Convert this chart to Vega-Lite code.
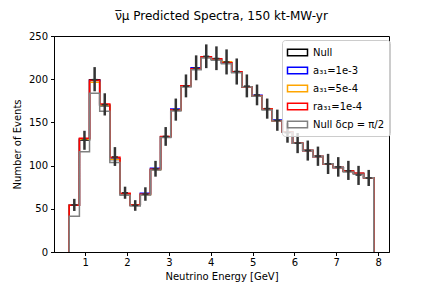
{
  "$schema": "https://vega.github.io/schema/vega-lite/v6.json",
  "width": 335,
  "height": 216,
  "autosize": {"type": "none"},
  "padding": {"left": 54, "top": 36, "right": 43, "bottom": 36},
  "title": {"text": "ν̅μ Predicted Spectra, 150 kt-MW-yr", "fontSize": 12, "fontWeight": "normal", "font": "DejaVu Sans", "color": "black", "offset": 8},
  "config": {
    "font": "DejaVu Sans",
    "view": {"stroke": "black", "strokeWidth": 1},
    "axis": {"domainColor": "black", "tickColor": "black", "labelColor": "black", "titleColor": "black", "labelFontSize": 10, "titleFontSize": 10, "titleFontWeight": "normal", "tickSize": 3.5, "labelPadding": 2, "grid": false, "labelFont": "DejaVu Sans", "titleFont": "DejaVu Sans"}
  },
  "datasets": {
    "steps": [
      {"o":0,"E":0.618,"n":0,"b":0,"y":0,"r":0,"g":0},
      {"o":1,"E":0.618,"n":54,"b":54,"y":54,"r":54,"g":41.5},
      {"o":2,"E":0.861,"n":129.5,"b":131,"y":130.5,"r":131.8,"g":116},
      {"o":3,"E":1.103,"n":199.5,"b":198.5,"y":196.5,"r":198.8,"g":183.7},
      {"o":4,"E":1.346,"n":169.4,"b":170,"y":170,"r":171.4,"g":163},
      {"o":5,"E":1.588,"n":107,"b":108,"y":107.4,"r":109.8,"g":103.5},
      {"o":6,"E":1.831,"n":67.5,"b":67.5,"y":67.5,"r":67.9,"g":65.6},
      {"o":7,"E":2.074,"n":54.3,"b":54.3,"y":54.3,"r":54.3,"g":53.1},
      {"o":8,"E":2.316,"n":66.5,"b":67.9,"y":66.5,"r":66.7,"g":65.9},
      {"o":9,"E":2.559,"n":95.5,"b":97,"y":95.5,"r":95.8,"g":95},
      {"o":10,"E":2.801,"n":133.5,"b":133.5,"y":133.5,"r":133.7,"g":132.6},
      {"o":11,"E":3.044,"n":164.2,"b":165.6,"y":164.2,"r":164.4,"g":163.2},
      {"o":12,"E":3.287,"n":192,"b":192,"y":192,"r":192.3,"g":191.1},
      {"o":13,"E":3.529,"n":211.8,"b":213.2,"y":211.8,"r":212,"g":210.9},
      {"o":14,"E":3.772,"n":225.8,"b":225.8,"y":225.8,"r":226,"g":224.4},
      {"o":15,"E":4.014,"n":223.5,"b":223.5,"y":223.5,"r":223.7,"g":222},
      {"o":16,"E":4.257,"n":219,"b":219,"y":220.2,"r":219,"g":218},
      {"o":17,"E":4.5,"n":208.4,"b":208.4,"y":208.4,"r":208.6,"g":207.4},
      {"o":18,"E":4.742,"n":191.2,"b":191.2,"y":191.2,"r":191.2,"g":191.2},
      {"o":19,"E":4.985,"n":180.5,"b":181.4,"y":180.5,"r":180.5,"g":180.2},
      {"o":20,"E":5.227,"n":165.4,"b":165.4,"y":165.4,"r":165.6,"g":164.4},
      {"o":21,"E":5.47,"n":151.8,"b":152.8,"y":151.8,"r":151.8,"g":151.6},
      {"o":22,"E":5.713,"n":139,"b":139,"y":139,"r":139,"g":138.5},
      {"o":23,"E":5.955,"n":126,"b":126,"y":126,"r":126,"g":126},
      {"o":24,"E":6.198,"n":117.5,"b":117.5,"y":117.5,"r":117.5,"g":117.5},
      {"o":25,"E":6.44,"n":110.5,"b":110.5,"y":110.5,"r":110.5,"g":110.5},
      {"o":26,"E":6.683,"n":102,"b":102,"y":102,"r":102,"g":102},
      {"o":27,"E":6.926,"n":97.7,"b":97.7,"y":97.7,"r":97.7,"g":97.7},
      {"o":28,"E":7.168,"n":93.5,"b":93.5,"y":93.5,"r":93.8,"g":92.7},
      {"o":29,"E":7.411,"n":91,"b":91,"y":91,"r":91.2,"g":90},
      {"o":30,"E":7.653,"n":86,"b":86,"y":86,"r":86,"g":86},
      {"o":31,"E":7.896,"n":86,"b":86,"y":86,"r":86,"g":86},
      {"o":32,"E":7.896,"n":0,"b":0,"y":0,"r":0,"g":0}
    ],
    "pts": [
      {"c":0.739,"m":54.5,"lo":47.5,"hi":61.5},
      {"c":0.982,"m":129.5,"lo":118.3,"hi":140.3},
      {"c":1.225,"m":199.5,"lo":186,"hi":214},
      {"c":1.467,"m":170.5,"lo":158,"hi":183.7},
      {"c":1.71,"m":110,"lo":99.6,"hi":121.4},
      {"c":1.952,"m":68.6,"lo":61.6,"hi":75.6},
      {"c":2.195,"m":54,"lo":47.7,"hi":60},
      {"c":2.438,"m":67,"lo":59.3,"hi":74.9},
      {"c":2.68,"m":96.3,"lo":87.2,"hi":105.5},
      {"c":2.923,"m":133.8,"lo":122.9,"hi":144.6},
      {"c":3.165,"m":164.8,"lo":152,"hi":177.6},
      {"c":3.408,"m":192,"lo":179,"hi":205.5},
      {"c":3.651,"m":213,"lo":198.8,"hi":227.6},
      {"c":3.893,"m":226.5,"lo":212.8,"hi":240.3},
      {"c":4.136,"m":224,"lo":210.5,"hi":238},
      {"c":4.378,"m":220,"lo":205.5,"hi":234.5},
      {"c":4.621,"m":209,"lo":193.8,"hi":224},
      {"c":4.863,"m":192,"lo":179,"hi":205.5},
      {"c":5.106,"m":181.8,"lo":169.8,"hi":193.8},
      {"c":5.349,"m":166,"lo":154.3,"hi":177.6},
      {"c":5.591,"m":152.5,"lo":140.3,"hi":164.8},
      {"c":5.834,"m":138,"lo":126.5,"hi":149.5},
      {"c":6.076,"m":126,"lo":114.4,"hi":137.7},
      {"c":6.319,"m":117.5,"lo":105.8,"hi":129},
      {"c":6.562,"m":111,"lo":99.7,"hi":122},
      {"c":6.804,"m":102,"lo":90.3,"hi":113.6},
      {"c":7.047,"m":98.5,"lo":87.2,"hi":109.8},
      {"c":7.289,"m":94,"lo":83.4,"hi":105.5},
      {"c":7.532,"m":89,"lo":77.6,"hi":99.7},
      {"c":7.775,"m":85.7,"lo":76.4,"hi":95}
    ]
  },
  "layer": [
    {
      "data": {"name": "steps"},
      "mark": {"type": "line", "interpolate": "step-after", "strokeWidth": 1.5},
      "encoding": {
        "x": {"field": "E", "type": "quantitative", "scale": {"domain": [0.254, 8.26], "nice": false, "zero": false}, "axis": {"values": [1,2,3,4,5,6,7,8], "title": "Neutrino Energy [GeV]", "titlePadding": 4}},
        "y": {"field": "n", "type": "quantitative", "scale": {"domain": [0, 250], "nice": false}, "axis": {"values": [0,50,100,150,200,250], "title": "Number of Events", "titlePadding": 6, "labelPadding": 3}},
        "order": {"field": "o", "type": "quantitative"},
        "color": {"datum": "Null", "type": "nominal",
          "scale": {"domain": ["Null", "a₃₁=1e-3", "a₃₁=5e-4", "ra₃₁=1e-4", "Null δcp = π/2"], "range": ["#000000", "#0000ff", "#ffa500", "#ff0000", "#808080"]},
          "legend": {"title": null, "orient": "none", "legendX": 228, "legendY": 4, "symbolType": "M-1.5,-0.5H1.5V0.5H-1.5Z", "symbolSize": 178, "symbolStrokeWidth": 1.5, "symbolFillColor": "transparent", "labelFontSize": 10, "labelColor": "black", "padding": 5, "rowPadding": 4, "fillColor": "rgba(255,255,255,0.8)", "strokeColor": "#cccccc", "cornerRadius": 3, "labelOffset": 8, "symbolOffset": 3}}
      }
    },
    {
      "data": {"name": "steps"},
      "mark": {"type": "line", "interpolate": "step-after", "strokeWidth": 1.5},
      "encoding": {
        "x": {"field": "E", "type": "quantitative"},
        "y": {"field": "b", "type": "quantitative"},
        "order": {"field": "o", "type": "quantitative"},
        "color": {"datum": "a₃₁=1e-3", "type": "nominal"}
      }
    },
    {
      "data": {"name": "steps"},
      "mark": {"type": "line", "interpolate": "step-after", "strokeWidth": 1.5},
      "encoding": {
        "x": {"field": "E", "type": "quantitative"},
        "y": {"field": "y", "type": "quantitative"},
        "order": {"field": "o", "type": "quantitative"},
        "color": {"datum": "a₃₁=5e-4", "type": "nominal"}
      }
    },
    {
      "data": {"name": "steps"},
      "mark": {"type": "line", "interpolate": "step-after", "strokeWidth": 1.5},
      "encoding": {
        "x": {"field": "E", "type": "quantitative"},
        "y": {"field": "r", "type": "quantitative"},
        "order": {"field": "o", "type": "quantitative"},
        "color": {"datum": "ra₃₁=1e-4", "type": "nominal"}
      }
    },
    {
      "data": {"name": "steps"},
      "mark": {"type": "line", "interpolate": "step-after", "strokeWidth": 1.5},
      "encoding": {
        "x": {"field": "E", "type": "quantitative"},
        "y": {"field": "g", "type": "quantitative"},
        "order": {"field": "o", "type": "quantitative"},
        "color": {"datum": "Null δcp = π/2", "type": "nominal"}
      }
    },
    {
      "data": {"name": "pts"},
      "mark": {"type": "rule", "strokeWidth": 2.5, "color": "#333333"},
      "encoding": {
        "x": {"field": "c", "type": "quantitative"},
        "y": {"field": "lo", "type": "quantitative"},
        "y2": {"field": "hi"}
      }
    },
    {
      "data": {"name": "pts"},
      "mark": {"type": "tick", "orient": "horizontal", "size": 6, "thickness": 1.5, "color": "#333333", "opacity": 1},
      "encoding": {
        "x": {"field": "c", "type": "quantitative"},
        "y": {"field": "m", "type": "quantitative"}
      }
    }
  ]
}
